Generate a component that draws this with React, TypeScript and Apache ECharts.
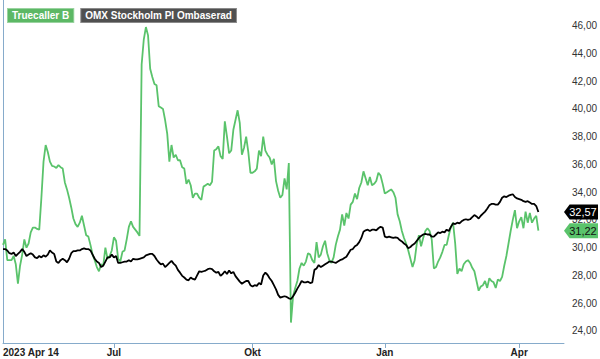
import React, { useEffect, useRef } from "react";
import * as echarts from "echarts";

// Trading-day index 0 = 2023 Apr 14
const seriesNames = ["Truecaller B", "OMX Stockholm PI Ombaserad"];

const truecaller = [
  30.2, 30.6, 29.1, 29.1, 29.1, 29.4, 28.8, 27.4, 28.7, 29.5,
  30.6, 30.0, 30.3, 31.1, 31.45, 31.45, 31.35, 31.3, 33.6, 36.2,
  37.4, 36.9, 36.2, 35.9, 35.85, 35.75, 35.95, 35.8, 35.7, 34.7,
  34.2, 33.6, 32.9, 32.1, 31.7, 31.5, 31.8, 32.3, 31.6, 30.9,
  30.8, 30.2, 29.5, 29.1, 28.6, 28.3, 28.8, 28.7, 30.0, 29.2,
  29.4, 29.8, 30.75, 30.5, 29.2, 29.0, 29.7, 29.8, 30.6, 31.5,
  31.9, 31.5, 31.3, 31.1, 30.85, 43.2, 45.0, 45.9, 45.3, 42.9,
  42.3, 41.8, 41.7, 40.2, 40.1, 40.0, 39.2, 38.2, 36.2, 37.4,
  36.5, 36.7, 36.3, 36.3, 35.8, 35.7, 34.6, 34.9, 34.5, 33.6,
  33.9, 33.9, 33.6, 33.45, 34.4, 34.5, 34.6, 34.5, 34.75, 37.0,
  37.1, 37.3, 36.6, 36.4, 39.1, 38.0, 36.8, 37.0, 38.5, 39.2,
  39.9, 39.0, 36.7, 37.2, 38.0, 36.9, 35.4, 35.4, 35.5, 35.7,
  37.0, 36.6, 38.0, 37.0, 36.7, 36.5, 36.0, 36.4, 34.8, 34.1,
  33.6, 33.8, 35.0, 34.2, 36.1, 24.6, 26.5, 27.1, 27.6, 28.5,
  28.9, 28.7, 29.0, 29.6, 29.5, 29.1, 28.9, 30.4, 29.3, 29.5,
  30.1, 30.5, 29.6, 29.1, 28.9, 29.3, 30.2, 30.8, 31.3, 32.4,
  31.6, 32.5, 32.1, 33.1, 33.3, 33.9, 33.5, 34.3, 34.7, 35.5,
  35.0, 34.5, 35.1, 34.5, 34.6, 34.8, 35.4, 35.2, 34.6, 33.9,
  34.0, 34.1, 34.2, 34.0, 33.6, 32.4, 31.9, 31.2, 30.7, 30.3,
  29.8, 29.2, 28.6, 29.1, 30.3, 30.9, 30.1, 30.7, 31.2, 31.4,
  31.2, 30.6, 28.5, 28.6, 29.0, 29.3, 29.7, 30.2, 30.2, 30.9,
  31.5, 31.8, 30.3, 28.1, 28.5, 28.3, 28.8, 29.0, 29.1, 28.9,
  28.55, 28.3, 27.6, 26.9, 27.2, 27.3, 27.6, 27.1, 27.8, 27.6,
  27.5, 27.1, 27.7, 27.6, 27.9, 28.7, 29.4, 30.3, 31.2, 32.0,
  32.7, 31.4, 31.9, 32.2, 31.4, 32.6, 31.8, 32.5, 31.8, 32.1,
  32.3, 31.22,
];

const omx = [
  29.9, 29.9, 29.8, 29.6, 29.55, 29.65, 29.4, 29.55, 29.7, 29.9,
  29.7, 29.4, 29.5, 29.6, 29.5, 29.3, 29.25, 29.4, 29.3, 29.45,
  29.35, 29.5, 29.8, 29.65, 29.55, 29.0, 28.9, 29.1, 29.2, 29.1,
  28.95, 29.2, 29.6, 29.75, 29.75, 29.8, 29.8, 29.9, 29.95, 29.9,
  29.9, 29.8, 29.5, 29.2, 29.0, 28.9, 28.6, 28.7, 29.0, 29.3,
  29.3, 29.5, 29.3, 29.4, 28.9, 28.9, 28.95, 29.0, 29.0, 29.1,
  29.0, 29.2, 29.15, 29.15, 29.2, 29.25, 29.3, 29.45, 29.5, 29.55,
  29.55, 29.4, 29.15, 28.95, 28.8, 28.85, 28.6, 28.75, 28.9, 29.05,
  28.85, 28.7, 28.4, 28.2, 27.97, 27.85, 27.7, 27.65, 27.85, 27.75,
  27.7, 28.0, 28.3, 28.25, 28.3, 28.35, 28.45, 28.5, 28.45, 28.3,
  28.2, 28.25, 27.97, 28.1, 28.3, 28.1, 28.35, 28.15, 28.25, 27.95,
  27.75, 27.55, 27.4, 27.5, 27.6, 27.6, 27.3, 27.2, 27.3, 27.25,
  27.45, 27.35, 28.0, 28.2, 28.05, 27.8, 27.6, 27.3, 27.0, 26.6,
  26.4, 26.45, 26.5, 26.45, 26.35, 26.3, 26.5, 26.75, 27.05, 27.3,
  27.6, 27.5, 27.5, 27.55, 27.45, 27.5, 28.4, 28.5, 28.75, 28.6,
  28.7, 28.8, 28.9, 29.0, 29.0, 28.95, 28.9, 29.0, 29.1, 29.15,
  29.25, 29.35, 29.6, 29.85, 29.9, 30.1, 30.2, 30.4, 30.7, 31.15,
  31.25, 31.3, 31.2, 31.3, 31.3, 31.25, 31.4, 31.5, 31.45, 30.8,
  30.75, 30.8, 30.75, 30.7, 30.75, 30.7, 30.55, 30.45, 30.3, 30.2,
  29.96, 30.05, 30.2, 30.3, 30.5, 30.7, 30.85, 30.95, 31.0, 30.95,
  30.95, 30.8, 30.8, 30.95, 31.1, 31.05, 31.15, 31.1, 31.3, 31.2,
  31.5, 31.75, 31.7, 31.8, 31.75, 31.9, 32.0, 32.05, 32.0, 32.05,
  32.2, 32.35, 32.25, 32.1, 32.3, 32.45, 32.6, 32.8, 33.05, 33.15,
  33.15, 33.1, 33.1, 33.3, 33.6, 33.7, 33.65, 33.75, 33.8, 33.85,
  33.65, 33.55, 33.5, 33.45, 33.35, 33.3, 33.35, 33.25, 33.15, 33.15,
  33.0, 32.57,
];

const lastValues = [31.22, 32.57];
const lastLabels = ["31,22", "32,57"];

const xStartLabel = "2023 Apr 14";
const xTickDays = [52, 117, 179, 242];
const xTickLabels = ["Jul", "Okt", "Jan", "Apr"];
const xMaxDay = 263;

const yTicks = [24, 26, 28, 30, 32, 34, 36, 38, 40, 42, 44, 46];

const FONT = "'Liberation Sans', Arial, Helvetica, sans-serif";
const GREEN = "#5ac36b";
const AXIS = "#86abcb";

const tagPath = "path://M0,7L6,0L36,0L36,14L6,14Z";

export default function App() {
  const ref = useRef<HTMLDivElement>(null);

  useEffect(() => {
    if (!ref.current) return;
    const chart = echarts.init(ref.current, undefined, { renderer: "svg" });
    const toPairs = (arr: number[]) => arr.map((v, i) => [i, v]);

    const tag = (value: number, text: string, bg: string, fg: string) => ({
      symbol: tagPath,
      symbolSize: [34, 15],
      symbolOffset: [17, 0],
      silent: true,
      data: [
        {
          coord: [xMaxDay, value],
          itemStyle: { color: bg },
          label: {
            show: true,
            position: "inside",
            offset: [2, 0],
            formatter: text,
            color: fg,
            fontSize: 11,
            fontFamily: FONT,
          },
        },
      ],
    });

    chart.setOption({
      animation: false,
      backgroundColor: "#ffffff",
      textStyle: { fontFamily: FONT },
      grid: { left: 0, right: 34, top: 0, bottom: 16, containLabel: false },
      legend: {
        left: -2,
        top: 3,
        icon: "none",
        itemWidth: 0,
        itemHeight: 0,
        itemGap: 2,
        selectedMode: false,
        data: [
          {
            name: seriesNames[0],
            textStyle: {
              color: "#ffffff",
              fontWeight: "bold",
              fontSize: 10,
              fontFamily: FONT,
              backgroundColor: "#5cb865",
              borderColor: "#9ad3a0",
              borderWidth: 1,
              padding: [2, 4, 1, 4],
            },
          },
          {
            name: seriesNames[1],
            textStyle: {
              color: "#ffffff",
              fontWeight: "bold",
              fontSize: 10,
              fontFamily: FONT,
              backgroundColor: "#505050",
              borderColor: "#8a8a8a",
              borderWidth: 1,
              padding: [2, 4, 1, 4],
            },
          },
        ],
      },
      xAxis: {
        type: "value",
        min: 0,
        max: xMaxDay,
        splitLine: { show: false },
        axisLine: { show: true, lineStyle: { color: AXIS, width: 1 } },
        axisTick: {
          show: true,
          customValues: xTickDays,
          length: 5,
          lineStyle: { color: AXIS },
        },
        axisLabel: {
          customValues: [0, ...xTickDays],
          alignMinLabel: "left",
          showMinLabel: true,
          margin: 4,
          color: "#222222",
          fontWeight: "bold",
          fontSize: 10,
          fontFamily: FONT,
          formatter: (v: number) => {
            if (v === 0) return xStartLabel;
            const i = xTickDays.indexOf(v);
            return i >= 0 ? xTickLabels[i] : "";
          },
        },
      },
      yAxis: {
        type: "value",
        position: "right",
        min: 23.13,
        max: 47.85,
        splitLine: { show: false },
        axisLine: { show: true, lineStyle: { color: AXIS, width: 1 } },
        axisTick: { show: false },
        axisLabel: {
          customValues: yTicks,
          margin: 8,
          color: "#333333",
          fontSize: 10,
          fontFamily: FONT,
          formatter: (v: number) => v.toFixed(2).replace(".", ","),
        },
      },
      series: [
        {
          name: seriesNames[0],
          type: "line",
          data: toPairs(truecaller),
          showSymbol: false,
          color: GREEN,
          lineStyle: { color: GREEN, width: 1.8 },
          z: 2,
          markPoint: tag(lastValues[0], lastLabels[0], GREEN, "#111111"),
        },
        {
          name: seriesNames[1],
          type: "line",
          data: toPairs(omx),
          showSymbol: false,
          color: "#000000",
          lineStyle: { color: "#000000", width: 1.8 },
          z: 3,
          markPoint: tag(lastValues[1], lastLabels[1], "#000000", "#ffffff"),
        },
      ],
    });

    return () => chart.dispose();
  }, []);

  return (
    <div
      ref={ref}
      style={{ position: "fixed", left: 0, top: 0, width: 600, height: 359 }}
    />
  );
}
